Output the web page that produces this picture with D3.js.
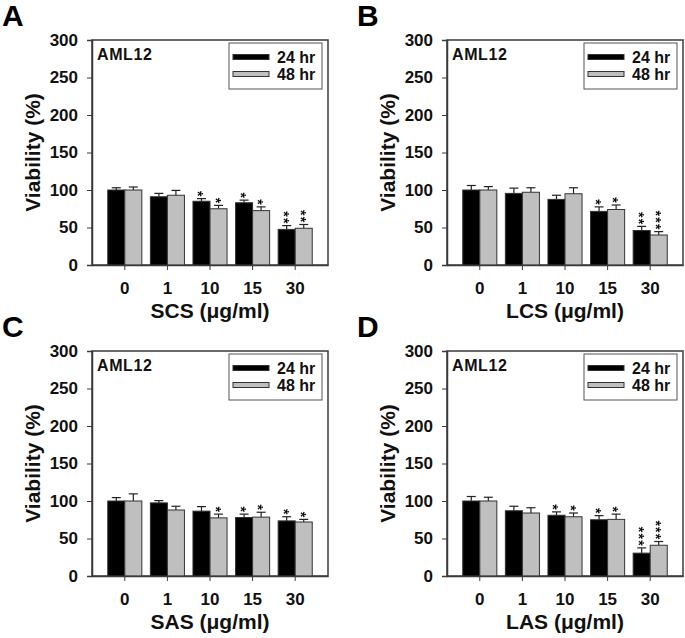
<!DOCTYPE html>
<html>
<head>
<meta charset="utf-8">
<script src="https://cdn.jsdelivr.net/npm/d3@7"></script>
<style>
  html, body { margin: 0; padding: 0; background: #fff; }
  svg { display: block; font-family: "Liberation Sans", Arial, Helvetica, sans-serif; font-weight: bold; }
</style>
</head>
<body>
<svg id="chart" width="685" height="638"></svg>
<script>
// ---------------- DATA ----------------
const categories = ["0", "1", "10", "15", "30"];
const seriesNames = ["24 hr", "48 hr"];
const yTicks = [0, 50, 100, 150, 200, 250, 300];
const panelLetters = ["A", "B", "C", "D"];
const xTitles = ["SCS (\u03bcg/ml)", "LCS (\u03bcg/ml)", "SAS (\u03bcg/ml)", "LAS (\u03bcg/ml)"];
const cellLine = "AML12";

// Panel A (SCS)
const scs24 = [100, 91, 85, 83, 47.5];
const scs48 = [100, 93, 75, 72.5, 49];
const scs24Err = [3, 4.5, 3.5, 3.5, 5];
const scs48Err = [4, 6.5, 4.5, 5, 5];
const scs24Sig = ["", "", "*", "*", "**"];
const scs48Sig = ["", "", "*", "*", "**"];

// Panel B (LCS)
const lcs24 = [100, 95.5, 87.5, 71.5, 46];
const lcs48 = [100, 97, 95, 74, 40];
const lcs24Err = [6, 7, 5.5, 6, 5.5];
const lcs48Err = [4.5, 6, 8, 6, 4.5];
const lcs24Sig = ["", "", "", "*", "**"];
const lcs48Sig = ["", "", "", "*", "***"];

// Panel C (SAS)
const sas24 = [100, 97.5, 86.5, 78, 73.5];
const sas48 = [100, 88, 77.5, 78.5, 72];
const sas24Err = [4.5, 3, 6, 4.5, 5.5];
const sas48Err = [9.5, 5, 5, 6.5, 3.5];
const sas24Sig = ["", "", "", "*", "*"];
const sas48Sig = ["", "", "*", "*", "*"];

// Panel D (LAS)
const las24 = [100, 87, 81, 75, 30.5];
const las48 = [100, 84, 79, 75.5, 41];
const las24Err = [6, 6, 4.5, 5.5, 7];
const las48Err = [5, 7, 5, 7, 5];
const las24Sig = ["", "", "*", "*", "***"];
const las48Sig = ["", "", "*", "*", "***"];

// ---------------- LAYOUT ----------------
const svg = d3.select("#chart");
const W = 236, H = 225;
const origins = [[92, 40], [447, 40], [92, 351], [447, 351]];
const seriesFill = ["#000000", "#bfbfbf"];
const frameColor = "#3a3a3a";
const starFont = 14;
const starStep = 6.7;

// filter used only to force grayscale anti-aliasing on the rotated star text
svg.append("defs").append("filter").attr("id", "gray-aa")
  .attr("x", "-50%").attr("y", "-50%").attr("width", "200%").attr("height", "200%")
  .append("feOffset").attr("dx", 0).attr("dy", 0);

const panels = [
  { v: [scs24, scs48], e: [scs24Err, scs48Err], s: [scs24Sig, scs48Sig] },
  { v: [lcs24, lcs48], e: [lcs24Err, lcs48Err], s: [lcs24Sig, lcs48Sig] },
  { v: [sas24, sas48], e: [sas24Err, sas48Err], s: [sas24Sig, sas48Sig] },
  { v: [las24, las48], e: [las24Err, las48Err], s: [las24Sig, las48Sig] }
];

panels.forEach((p, pi) => {
  const [ox, oy] = origins[pi];
  const g = svg.append("g").attr("transform", `translate(${ox},${oy})`);

  const x = d3.scaleBand().domain(categories).range([0, W]).paddingInner(0.2).paddingOuter(0.37);
  const xs = d3.scaleBand().domain(seriesNames).range([0, x.bandwidth()]);
  const y = d3.scaleLinear().domain([0, 300]).range([H, 0]);

  // frame (top/right)
  g.append("rect").attr("x", 0).attr("y", 0).attr("width", W).attr("height", H)
    .attr("fill", "none").attr("stroke", frameColor).attr("stroke-width", 1.5);

  // bars
  seriesNames.forEach((sn, si) => {
    const rows = categories.map((c, i) => ({ c, v: p.v[si][i], e: p.e[si][i], s: p.s[si][i] }));
    const cx = d => x(d.c) + xs(sn) + xs.bandwidth() / 2;
    const sg = g.append("g");
    // error bars (upper only)
    sg.selectAll("line.err").data(rows).join("line")
      .attr("x1", cx).attr("x2", cx)
      .attr("y1", d => y(d.v)).attr("y2", d => y(d.v + d.e))
      .attr("stroke", "#222").attr("stroke-width", 1.2);
    sg.selectAll("line.cap").data(rows).join("line")
      .attr("x1", d => cx(d) - 4.5).attr("x2", d => cx(d) + 4.5)
      .attr("y1", d => y(d.v + d.e)).attr("y2", d => y(d.v + d.e))
      .attr("stroke", "#222").attr("stroke-width", 1.2);
    sg.selectAll("rect").data(rows).join("rect")
      .attr("x", d => x(d.c) + xs(sn))
      .attr("width", xs.bandwidth())
      .attr("y", d => y(d.v))
      .attr("height", d => y(0) - y(d.v))
      .attr("fill", seriesFill[si])
      .attr("stroke", "#333").attr("stroke-width", 1);
    // significance stars: one text per bar, written along a rotated line so they stack vertically
    const starLayer = sg.append("g").attr("filter", "url(#gray-aa)");
    rows.filter(d => d.s.length > 0).forEach(d => {
      const n = d.s.length;
      const midY = y(d.v + d.e) - 5 - (n - 1) * starStep / 2;
      const ls = starStep - 0.389 * starFont;
      starLayer.append("g")
        .attr("transform", `translate(${cx(d)},${midY}) rotate(90)`)
        .append("text")
        .attr("x", ls / 2)
        .attr("y", 0.57 * starFont)
        .attr("text-anchor", "middle")
        .attr("letter-spacing", ls)
        .attr("font-size", starFont)
        .attr("fill", "#111")
        .text(d.s);
    });
  });

  // axes
  const yAxis = d3.axisLeft(y).tickValues(yTicks).tickSize(5).tickPadding(9);
  const ya = g.append("g").call(yAxis);
  ya.selectAll("text").attr("font-size", 17).attr("font-family", "Liberation Sans, Arial, sans-serif")
    .attr("font-weight", "bold").attr("fill", "#111");
  ya.select(".domain").attr("stroke", frameColor).attr("stroke-width", 1.5);
  ya.selectAll(".tick line").attr("stroke", frameColor).attr("stroke-width", 1);

  const xAxis = d3.axisBottom(x).tickSize(5).tickPadding(12).tickSizeOuter(0);
  const xa = g.append("g").attr("transform", `translate(0,${H})`).call(xAxis);
  xa.selectAll("text").attr("font-size", 17).attr("font-family", "Liberation Sans, Arial, sans-serif")
    .attr("font-weight", "bold").attr("fill", "#111");
  xa.select(".domain").attr("stroke", frameColor).attr("stroke-width", 1.5);
  xa.selectAll(".tick line").attr("stroke", frameColor).attr("stroke-width", 1);

  // axis titles
  g.append("text")
    .attr("transform", `translate(${-52},${H / 2}) rotate(-90)`)
    .attr("text-anchor", "middle")
    .attr("font-size", 21).attr("fill", "#111")
    .text("Viability (%)");
  g.append("text")
    .attr("x", W / 2).attr("y", H + 53)
    .attr("text-anchor", "middle")
    .attr("font-size", 21).attr("fill", "#111")
    .text(xTitles[pi]);

  // cell line label
  g.append("text").attr("x", 5).attr("y", 20)
    .attr("font-size", 16).attr("letter-spacing", 0.6).attr("fill", "#111")
    .text(cellLine);

  // legend
  const lg = g.append("g").attr("transform", `translate(${W - 99},3)`);
  lg.append("rect").attr("width", 93).attr("height", 46)
    .attr("fill", "#fff").attr("stroke", "#555").attr("stroke-width", 1);
  seriesNames.forEach((sn, si) => {
    const cy = 14 + si * 17;
    lg.append("rect").attr("x", 4).attr("y", cy - 2.5).attr("width", 36).attr("height", 5)
      .attr("fill", seriesFill[si]).attr("stroke", "#333").attr("stroke-width", 1);
    lg.append("text").attr("x", 48).attr("y", cy + 5.5)
      .attr("font-size", 16).attr("fill", "#111").text(sn);
  });

  // panel letter
  svg.append("text")
    .attr("x", ox - 90).attr("y", oy - 14)
    .attr("font-size", 30).attr("fill", "#000")
    .text(panelLetters[pi]);
});
</script>
</body>
</html>
